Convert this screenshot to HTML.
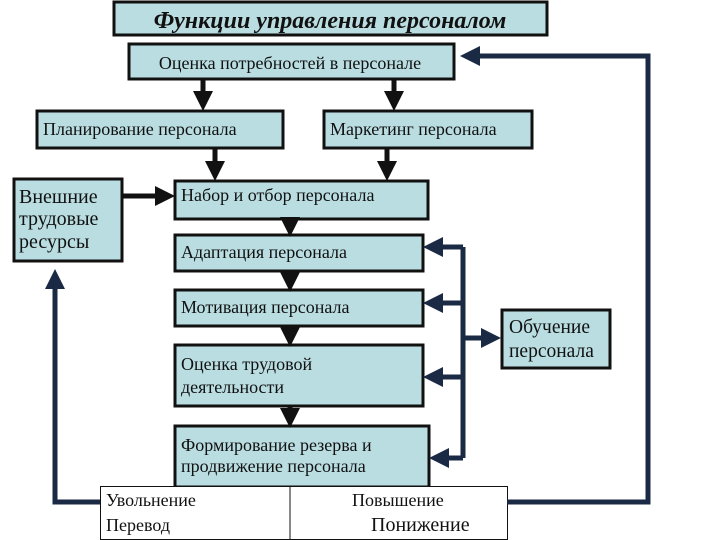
<!DOCTYPE html>
<html><head><meta charset="utf-8"><style>
body{margin:0;background:#fff;}
svg{display:block;}
text{font-family:"Liberation Serif",serif;fill:#111;}
</style></head><body>
<svg width="720" height="540" viewBox="0 0 720 540" xmlns="http://www.w3.org/2000/svg">
<defs>
<marker id="ab" markerWidth="4" markerHeight="4" refX="3" refY="2" orient="auto" markerUnits="strokeWidth"><path d="M0,0 L4,2 L0,4z" fill="#111"/></marker>
<marker id="an" markerWidth="4" markerHeight="4" refX="3" refY="2" orient="auto" markerUnits="strokeWidth"><path d="M0,0 L4,2 L0,4z" fill="#1a2a44"/></marker>
</defs>
<g fill="#b9dde1" stroke="#111" stroke-width="3">
<rect x="114" y="2" width="433" height="33"/>
<rect x="129" y="44" width="325" height="35"/>
<rect x="37" y="111" width="246" height="37"/>
<rect x="324" y="111" width="208" height="37"/>
<rect x="175" y="181" width="253" height="38"/>
<rect x="14" y="179" width="108" height="82"/>
<rect x="175" y="235" width="248" height="36"/>
<rect x="175" y="290" width="248" height="36"/>
<rect x="175" y="345" width="248" height="61"/>
<rect x="175" y="426" width="254" height="61"/>
<rect x="502" y="310" width="108" height="58"/>
</g>
<rect x="100.5" y="486.5" width="407" height="53" fill="#fff" stroke="#111" stroke-width="1"/>
<line x1="290" y1="487" x2="290" y2="540" stroke="#111" stroke-width="1"/>
<g stroke="#111" stroke-width="5" fill="none" marker-end="url(#ab)">
<line x1="203" y1="80" x2="203" y2="106"/>
<line x1="394" y1="80" x2="394" y2="106"/>
<line x1="215" y1="148" x2="215" y2="176"/>
<line x1="387" y1="148" x2="387" y2="176"/>
<line x1="122" y1="196" x2="170" y2="196"/>
<line x1="290" y1="219" x2="290" y2="232"/>
<line x1="290" y1="271" x2="290" y2="287"/>
<line x1="290" y1="326" x2="290" y2="342"/>
<line x1="290" y1="406" x2="290" y2="423"/>
</g>
<g stroke="#1a2a44" stroke-width="5" fill="none">
<polyline points="463,247 463,458"/>
<polyline points="507,502 648,502 648,56 465,56" marker-end="url(#an)"/>
<polyline points="100,502 55,502 55,274" marker-end="url(#an)"/>
<line x1="463" y1="247" x2="428" y2="247" marker-end="url(#an)"/>
<line x1="463" y1="303" x2="428" y2="303" marker-end="url(#an)"/>
<line x1="463" y1="377" x2="428" y2="377" marker-end="url(#an)"/>
<line x1="463" y1="458" x2="434" y2="458" marker-end="url(#an)"/>
<line x1="463" y1="338" x2="496" y2="338" marker-end="url(#an)"/>
</g>
<text x="330" y="28" text-anchor="middle" font-size="24" font-weight="bold" font-style="italic">Функции управления персоналом</text>
<text x="290" y="69" text-anchor="middle" font-size="18">Оценка потребностей в персонале</text>
<text x="43" y="135" font-size="18">Планирование персонала</text>
<text x="330" y="135" font-size="18">Маркетинг персонала</text>
<text x="181" y="201" font-size="18">Набор и отбор персонала</text>
<text x="19" y="203" font-size="20">Внешние</text>
<text x="19" y="225" font-size="20">трудовые</text>
<text x="19" y="248" font-size="20">ресурсы</text>
<text x="181" y="258" font-size="18">Адаптация персонала</text>
<text x="181" y="313" font-size="18">Мотивация персонала</text>
<text x="181" y="370" font-size="18">Оценка трудовой</text>
<text x="181" y="393" font-size="18">деятельности</text>
<text x="181" y="451" font-size="18">Формирование резерва и</text>
<text x="181" y="472" font-size="18">продвижение персонала</text>
<text x="509" y="333" font-size="19.5">Обучение</text>
<text x="509" y="357" font-size="19.5">персонала</text>
<text x="106" y="506" font-size="18">Увольнение</text>
<text x="106" y="531" font-size="18">Перевод</text>
<text x="352" y="506" font-size="18">Повышение</text>
<text x="371" y="531" font-size="20">Понижение</text>
</svg>
</body></html>
